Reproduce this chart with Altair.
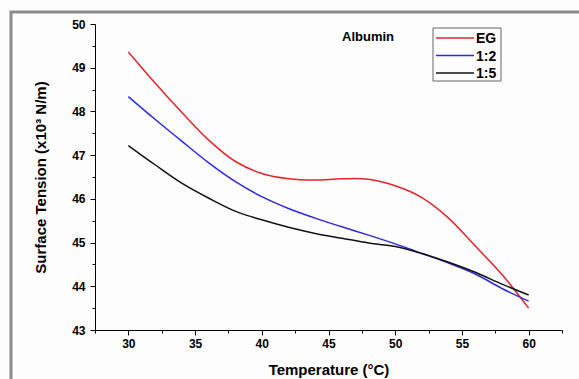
import altair as alt
import pandas as pd

# Temperature grid (°C) and surface tension readings (x10^3 N/m)
temperature = [30, 32, 34, 36, 38, 40, 42, 44, 46, 48, 50, 52, 54, 56, 58, 60]
eg = [49.36, 48.65, 47.98, 47.35, 46.86, 46.58, 46.46, 46.43, 46.46, 46.45,
      46.30, 46.03, 45.56, 44.92, 44.27, 43.50]
ratio_1_2 = [48.34, 47.82, 47.32, 46.83, 46.40, 46.05, 45.78, 45.56, 45.36, 45.17,
             44.97, 44.75, 44.53, 44.28, 43.95, 43.66]
ratio_1_5 = [47.22, 46.78, 46.36, 46.02, 45.72, 45.52, 45.35, 45.21, 45.10, 44.99,
             44.91, 44.75, 44.55, 44.32, 44.05, 43.80]

series_names = ["EG", "1:2", "1:5"]
series_colors = ["#e8232a", "#2b2be6", "#111111"]

x_major = [30, 35, 40, 45, 50, 55, 60]
x_minor = [27.5, 32.5, 37.5, 42.5, 47.5, 52.5, 57.5, 62.5]
y_major = [43, 44, 45, 46, 47, 48, 49, 50]
y_minor = [43.5, 44.5, 45.5, 46.5, 47.5, 48.5, 49.5]

rows = []
for name, vals in zip(series_names, [eg, ratio_1_2, ratio_1_5]):
    for t, v in zip(temperature, vals):
        rows.append({"T": t, "ST": v, "Sample": name})
df = pd.DataFrame(rows)

FONT = "Liberation Sans"
x_scale = alt.Scale(domain=[27.5, 62.5], nice=False, zero=False)
y_scale = alt.Scale(domain=[43, 50], nice=False, zero=False)
color_scale = alt.Scale(domain=series_names, range=series_colors)

lines = alt.Chart(df).mark_line(strokeWidth=1.5, interpolate="catmull-rom").encode(
    x=alt.X("T:Q", scale=x_scale,
            axis=alt.Axis(orient="bottom", values=x_major, format="d",
                          title="Temperature (°C)", titleFont=FONT,
                          titleFontSize=15, titleFontWeight="bold",
                          titleY=39, titleBaseline="middle",
                          labelFont=FONT, labelFontSize=12, labelFontWeight="bold",
                          labelPadding=3, tickSize=5, grid=False,
                          domainColor="#000", tickColor="#000", labelColor="#000",
                          titleColor="#000")),
    y=alt.Y("ST:Q", scale=y_scale,
            axis=alt.Axis(orient="left", values=y_major, format="d",
                          title="Surface Tension (x10³ N/m)", titleFont=FONT,
                          titleFontSize=15, titleFontWeight="bold",
                          titleX=-55, titleY=153, titleBaseline="middle",
                          labelFont=FONT, labelFontSize=12, labelFontWeight="bold",
                          labelPadding=5, tickSize=5, grid=False,
                          domainColor="#000", tickColor="#000", labelColor="#000",
                          titleColor="#000")),
    color=alt.Color("Sample:N", scale=color_scale, legend=None),
)

# Invisible layer carrying the minor tick marks on both axes
minor = alt.Chart(df).mark_line(strokeOpacity=0).encode(
    x=alt.X("T:Q", scale=x_scale,
            axis=alt.Axis(orient="bottom", values=x_minor, labels=False,
                          domain=False, tickSize=3, grid=False, title=None,
                          tickColor="#000")),
    y=alt.Y("ST:Q", scale=y_scale,
            axis=alt.Axis(orient="left", values=y_minor, labels=False,
                          domain=False, tickSize=3, grid=False, title=None,
                          tickColor="#000")),
    detail="Sample:N",
)

label = alt.Chart(pd.DataFrame({"text": ["Albumin"]})).mark_text(
    font=FONT, fontSize=13, fontWeight="bold", color="#000", align="center",
    baseline="middle"
).encode(x=alt.value(273), y=alt.value(13), text="text:N")

# Legend: boxed key in the upper right, one swatch row per sample
legend_df = pd.DataFrame({"Sample": series_names})
legend_y = alt.Y("Sample:N",
                 scale=alt.Scale(type="point", domain=series_names,
                                 range=[14, 49], padding=0),
                 axis=None)
legend_box = alt.Chart(pd.DataFrame({"k": [0]})).mark_rect(
    filled=False, stroke="#666", strokeWidth=1
).encode(x=alt.value(338), x2=alt.value(406), y=alt.value(4), y2=alt.value(57))
legend_lines = alt.Chart(legend_df).mark_rule(strokeWidth=1.5).encode(
    x=alt.value(341), x2=alt.value(379), y=legend_y,
    color=alt.Color("Sample:N", scale=color_scale, legend=None),
)
legend_text = alt.Chart(legend_df).mark_text(
    font=FONT, fontSize=14, fontWeight="bold", color="#000", align="left",
    baseline="middle", dy=1
).encode(x=alt.value(381), y=legend_y, text="Sample:N")
legend = alt.layer(legend_box, legend_lines, legend_text)

frame = alt.Chart(pd.DataFrame({"k": [0]})).mark_rect(
    filled=False, stroke="#8c8c8c", strokeWidth=3
).encode(x=alt.value(-84), y=alt.value(-12), x2=alt.value(600), y2=alt.value(420))

chart = alt.layer(frame, minor, lines, label, legend).resolve_axis(
    x="independent", y="independent"
).resolve_scale(y="independent").properties(
    width=467, height=306,
    padding={"left": 95, "top": 24, "right": 17, "bottom": 49},
    autosize=alt.AutoSizeParams(type="none"),
    background="#fdfdfd",
).configure_view(stroke=None)

chart.save("out.html", embed_options={"renderer": "svg", "actions": False})
